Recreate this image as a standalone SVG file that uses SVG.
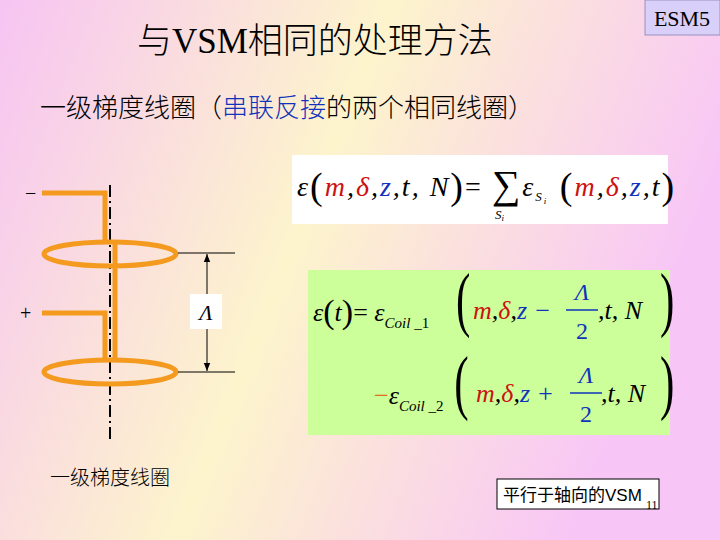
<svg xmlns="http://www.w3.org/2000/svg" width="720" height="540" viewBox="0 0 720 540">
<defs>
<linearGradient id="bg" x1="0" y1="0" x2="1" y2="0.3">
<stop offset="0" stop-color="#f7c4f3"/><stop offset="0.5" stop-color="#fdf4cc"/><stop offset="1" stop-color="#f8c6f6"/>
</linearGradient>
<marker id="ar" viewBox="0 0 10 10" refX="10" refY="5" markerWidth="8" markerHeight="8" orient="auto-start-reverse"><path d="M0,1 L10,5 L0,9 z" fill="#000"/></marker>
<style>
.s{font-family:"Liberation Serif","Noto Sans CJK SC",serif}
.m{font-family:"Liberation Serif",serif;font-style:italic}
.w{fill:none;stroke:#f39a1f;stroke-width:5}
.r{fill:#cc1111}.b{fill:#1133bb}
</style>
</defs>
<rect width="720" height="540" fill="url(#bg)"/>
<text class="s" x="137" y="53" font-size="35" font-weight="300">与VSM相同的处理方法</text>
<g id="esm"><rect x="645" y="0" width="75" height="35" fill="#d8d0f8" stroke="#9a90c0"/><text class="s" x="682" y="26" font-size="22" text-anchor="middle">ESM5</text></g>
<text class="s" x="40" y="117" font-size="26" font-weight="300">一级梯度线圈（<tspan fill="#1133bb">串联反接</tspan>的两个相同线圈）</text>
<g id="coil">
<line x1="110" y1="185" x2="110" y2="440" stroke="#000" stroke-width="2" stroke-dasharray="12,4,2,4"/>
<path class="w" d="M42,193 H105 V242"/>
<ellipse class="w" cx="110" cy="254" rx="66" ry="12"/>
<path class="w" d="M115,242 V362"/>
<path class="w" d="M42,313 H105 V360"/>
<ellipse class="w" cx="110" cy="372" rx="66" ry="12"/>
<text class="s" x="25" y="200" font-size="20">−</text>
<text class="s" x="20" y="320" font-size="20">+</text>
</g>
<g id="dim" stroke="#000" stroke-width="1">
<line x1="178" y1="253" x2="235" y2="253"/><line x1="178" y1="372" x2="235" y2="372"/>
<line x1="207" y1="254" x2="207" y2="371" marker-start="url(#ar)" marker-end="url(#ar)"/>
<rect x="190" y="294" width="32" height="35" fill="#fff" stroke="none"/>
<text class="m" x="206" y="320" font-size="22" text-anchor="middle" stroke="none">Λ</text>
</g>
<g id="f1"><rect x="292" y="155" width="376" height="69" fill="#fff"/>
<text class="m" x="297" y="196" font-size="28" letter-spacing="2">ε<tspan font-style="normal" font-size="38" dy="3">(</tspan><tspan dy="-3" class="r">m</tspan>,<tspan class="r">δ</tspan>,<tspan class="b">z</tspan>,t, N<tspan font-style="normal" font-size="38" dy="3">)</tspan><tspan font-style="normal" dy="-3">= </tspan><tspan font-style="normal" font-size="40" dy="2">∑</tspan><tspan dy="-2">ε</tspan><tspan font-size="13" dy="5">S</tspan><tspan font-size="9" dy="3">i</tspan><tspan font-style="normal" font-size="38" dy="-5"> (</tspan><tspan dy="-3" class="r">m</tspan>,<tspan class="r">δ</tspan>,<tspan class="b">z</tspan>,t<tspan font-style="normal" font-size="38" dy="3">)</tspan></text>
<text class="m" x="495" y="219" font-size="13">S<tspan font-size="9" dy="2">i</tspan></text>
</g>
<g id="f2"><rect x="308" y="270" width="362" height="165" fill="#ccff99"/>
<text class="m" x="313" y="321" font-size="26">ε<tspan font-style="normal" font-size="34" dy="2">(</tspan><tspan dy="-2">t</tspan><tspan font-style="normal" font-size="34" dy="2">)</tspan><tspan font-style="normal" dy="-2">= </tspan>ε<tspan font-size="15" dy="7">Coil _</tspan><tspan font-style="normal" font-size="15">1</tspan></text>
<text class="s" x="760" y="323" font-size="72" transform="scale(0.6,1)">(</text>
<text class="m" x="473" y="319" font-size="26"><tspan class="r">m</tspan>,<tspan class="r">δ</tspan>,<tspan class="b">z −</tspan></text>
<text class="m" x="582" y="300" font-size="24" text-anchor="middle" fill="#1133bb">Λ</text>
<line x1="566" y1="310" x2="598" y2="310" stroke="#1133bb" stroke-width="1.5"/>
<text class="s" x="582" y="339" font-size="24" text-anchor="middle" fill="#1133bb">2</text>
<text class="m" x="598" y="319" font-size="26">,t, N</text>
<text class="s" x="1100" y="323" font-size="72" transform="scale(0.6,1)">)</text>
<text class="m" x="374" y="404" font-size="26"><tspan font-style="normal" fill="#e07020">−</tspan>ε<tspan font-size="15" dy="7">Coil _</tspan><tspan font-style="normal" font-size="15">2</tspan></text>
<text class="s" x="757" y="406" font-size="72" transform="scale(0.6,1)">(</text>
<text class="m" x="476" y="402" font-size="26"><tspan class="r">m</tspan>,<tspan class="r">δ</tspan>,<tspan class="b">z +</tspan></text>
<text class="m" x="586" y="383" font-size="24" fill="#1133bb" text-anchor="middle">Λ</text>
<line x1="570" y1="393" x2="602" y2="393" stroke="#1133bb" stroke-width="1.5"/>
<text class="s" x="586" y="422" font-size="24" text-anchor="middle" fill="#1133bb">2</text>
<text class="m" x="601" y="402" font-size="26">,t, N</text>
<text class="s" x="1100" y="406" font-size="72" transform="scale(0.6,1)">)</text>
</g>
<text class="s" x="50" y="485" font-size="20" font-weight="300">一级梯度线圈</text>
<g id="note"><rect x="497" y="479" width="162" height="30" fill="#fff" stroke="#000"/>
<text x="503" y="501" font-size="17" font-family="Liberation Sans,Noto Sans CJK SC,sans-serif">平行于轴向的VSM</text>
<text x="646" y="509" font-size="12" font-family="Liberation Serif,serif">11</text></g>
</svg>
